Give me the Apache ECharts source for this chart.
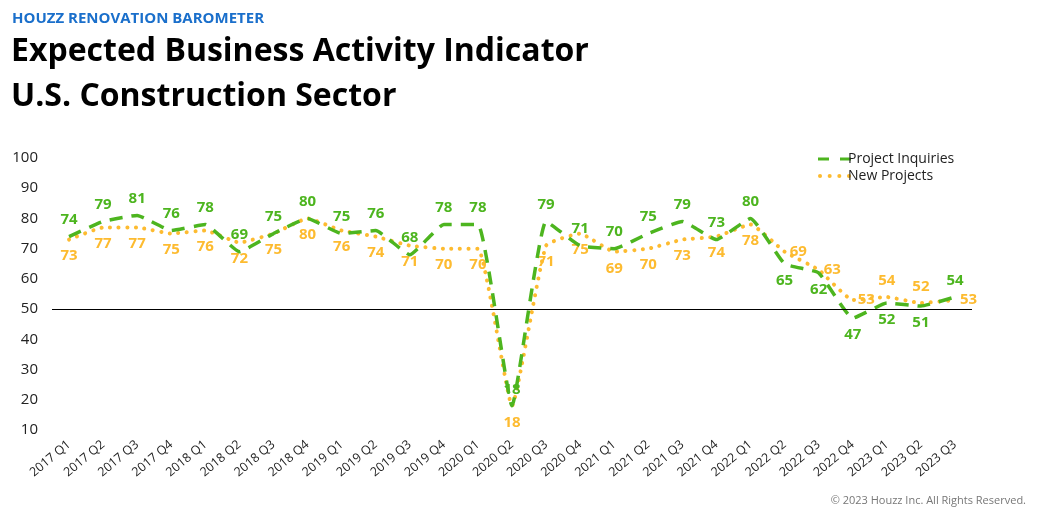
<!DOCTYPE html>
<html><head><meta charset="utf-8">
<script src="https://cdn.jsdelivr.net/npm/echarts@6/dist/echarts.min.js"></script>
<style>html,body{margin:0;padding:0;background:#fff}#c{width:1037px;height:513px}</style>
</head><body><div id="c"></div>
<script>
const categories = ["2017 Q1","2017 Q2","2017 Q3","2017 Q4","2018 Q1","2018 Q2","2018 Q3","2018 Q4","2019 Q1","2019 Q2","2019 Q3","2019 Q4","2020 Q1","2020 Q2","2020 Q3","2020 Q4","2021 Q1","2021 Q2","2021 Q3","2021 Q4","2022 Q1","2022 Q2","2022 Q3","2022 Q4","2023 Q1","2023 Q2","2023 Q3"];
const projectInquiries = [74,79,81,76,78,69,75,80,75,76,68,78,78,18,79,71,70,75,79,73,80,65,62,47,52,51,54];
const newProjects = [73,77,77,75,76,72,75,80,76,74,71,70,70,18,71,75,69,70,73,74,78,69,63,53,54,52,53];
const yTicks = {min:10, max:100, interval:10};
const refValue = 50;

// label placement (layout only)
const inqPos = categories.map((c,i)=> (i>=21 && i<=25) ? 'bottom' : 'top');
const newPos = categories.map((c,i)=> (i>=21 && i<=23) ? 'right' : (i>=24 && i<=25) ? 'top' : i===26 ? 'right' : 'bottom');

const GREEN = '#4DB51F', YELLOW = '#FDBB30';
const FONT = '"Open Sans", Lato, sans-serif';

function mk(vals, pos){
  return vals.map((v,i)=>({value:v, label:{position:pos[i], distance: pos[i]==='right'?5:9}}));
}

const chart = echarts.init(document.getElementById('c'), null, {renderer:'canvas'});
chart.setOption({
  animation:false,
  textStyle:{fontFamily:FONT},
  title:[
    {text:'HOUZZ RENOVATION BAROMETER', left:7, top:6, textStyle:{color:'#1A6FCB', fontSize:15, fontWeight:'bold', fontFamily:FONT}},
    {text:'Expected Business Activity Indicator\nU.S. Construction Sector', left:6, top:24, textStyle:{color:'#000', fontSize:32, fontWeight:'bold', lineHeight:45, fontFamily:FONT}},
    {text:'© 2023 Houzz Inc. All Rights Reserved.', right:6, bottom:2, textStyle:{color:'#777', fontSize:11, fontWeight:'normal', fontFamily:FONT}}
  ],
  legend:{
    left:813, top:147, orient:'vertical', itemGap:3, itemWidth:33, itemHeight:10,
    textStyle:{fontSize:14, color:'#222', fontFamily:FONT, padding:[0,0,0,-8]},
    data:[
      {name:'Project Inquiries', icon:'path://M0,3.5h11v3h-11z M22,3.5h11v3h-11z', itemStyle:{color:GREEN}},
      {name:'New Projects', icon:'path://M0,5a2,2 0 1,0 4,0a2,2 0 1,0 -4,0z M9.5,5a2,2 0 1,0 4,0a2,2 0 1,0 -4,0z M19,5a2,2 0 1,0 4,0a2,2 0 1,0 -4,0z M28.5,5a2,2 0 1,0 4,0a2,2 0 1,0 -4,0z', itemStyle:{color:YELLOW}}
    ]
  },
  grid:{left:52, right:65, top:158, bottom:83},
  xAxis:{
    type:'category', data:categories, boundaryGap:true,
    axisLine:{show:false}, axisTick:{show:false},
    axisLabel:{rotate:40, fontSize:12.5, color:'#222', margin:13, interval:0, fontFamily:FONT}
  },
  yAxis:{
    type:'value', min:yTicks.min, max:yTicks.max, interval:yTicks.interval,
    axisLine:{show:false}, axisTick:{show:false}, splitLine:{show:false},
    axisLabel:{fontSize:15, color:'#222', margin:14, fontFamily:FONT}
  },
  series:[
    {
      name:'Project Inquiries', type:'line', data:mk(projectInquiries, inqPos), smooth:0.12,
      symbol:'circle', symbolSize:0.1, showSymbol:true, z:3,
      lineStyle:{color:GREEN, width:3.5, type:[13,9]},
      itemStyle:{color:GREEN},
      label:{show:true, color:GREEN, fontSize:15, fontWeight:'bold', fontFamily:FONT},
      markLine:{silent:true, symbol:'none', label:{show:false}, lineStyle:{color:'#000', width:1, type:'solid'}, data:[{yAxis:refValue}]}
    },
    {
      name:'New Projects', type:'line', data:mk(newProjects, newPos), smooth:0.12,
      symbol:'circle', symbolSize:0.1, showSymbol:true, z:2,
      lineStyle:{color:YELLOW, width:4, type:[0.1,8.5], cap:'round'},
      itemStyle:{color:YELLOW},
      label:{show:true, color:YELLOW, fontSize:15, fontWeight:'bold', fontFamily:FONT}
    }
  ]
});
</script></body></html>
